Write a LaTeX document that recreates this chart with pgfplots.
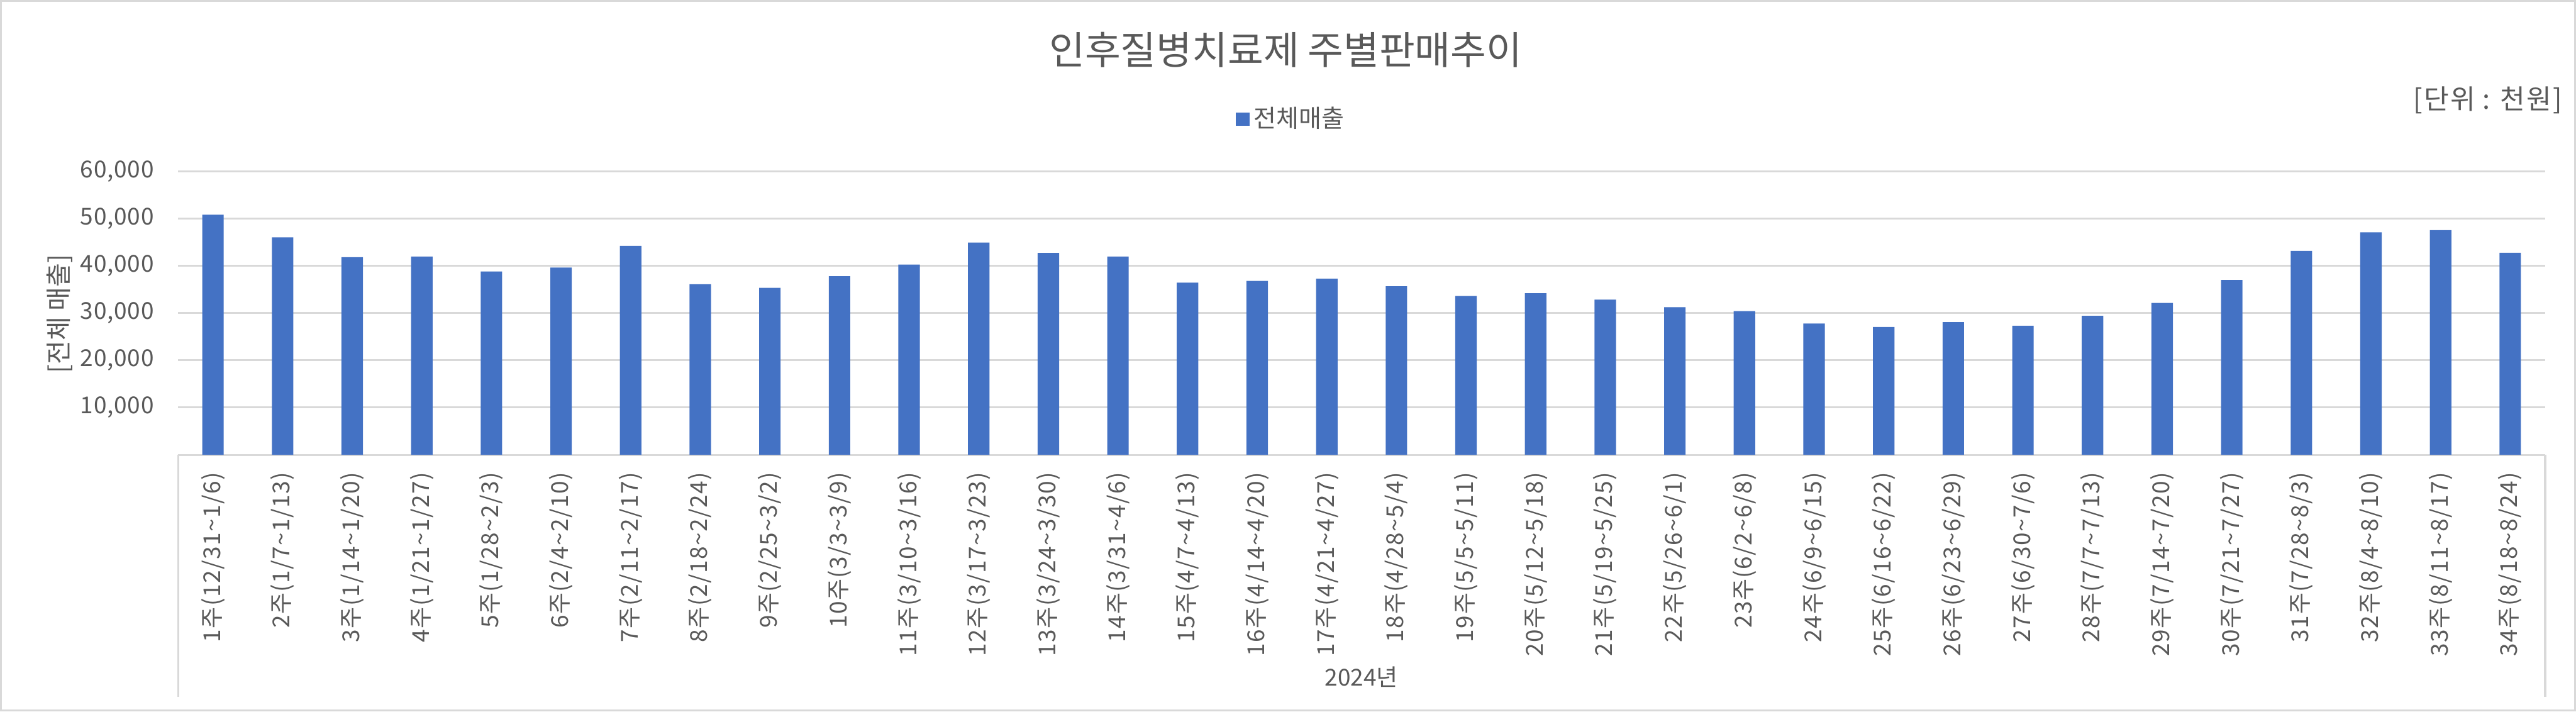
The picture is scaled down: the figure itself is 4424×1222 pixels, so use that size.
\documentclass[border=0pt]{standalone}
\usepackage{fontspec}
\setmainfont{Noto Sans CJK KR}
\newfontfamily\wide[LetterSpace=4]{Noto Sans CJK KR}
\newfontfamily\ywide[LetterSpace=2]{Noto Sans CJK KR}
\newfontfamily\semiwide[LetterSpace=5]{Noto Sans CJK KR}
\usepackage{pgfplots}
\pgfplotsset{compat=1.18}
\definecolor{txt}{HTML}{595959}
\definecolor{grd}{HTML}{D9D9D9}
\definecolor{barc}{HTML}{4472C4}
\newcommand{\tl}{\textasciitilde}
\begin{document}
\begin{tikzpicture}[x=0.225pt,y=0.225pt]
\useasboundingbox (0,0) rectangle (4424,1222);
\draw[grd, line width=0.75pt] (2,2) rectangle (4422,1220);
\node[text=txt, font=\fontsize{15pt}{18pt}\selectfont] at (2208,1136) {인후질병치료제 주별판매추이};
\node[text=txt, font=\fontsize{10.5pt}{12pt}\semiwide, anchor=east, inner sep=0pt] at (4401,1050) {[단위 : 천원]};
\node[text=txt, font=\fontsize{10pt}{12pt}\selectfont, rotate=90] at (102,683) {[전체 매출]};
\node[text=txt, font=\fontsize{9pt}{11pt}\selectfont] at (2338,59) {2024년};
\draw[grd, line width=0.75pt] (306,441) -- (306,25);
\draw[grd, line width=0.75pt] (4371,441) -- (4371,25);
\coordinate (AX) at (306,441);
\begin{axis}[
  at={(AX)}, anchor=south west,
  scale only axis, width=914.6pt, height=109.6pt,
  xmin=0.5, xmax=34.5, ymin=0, ymax=60000,
  ybar, bar width=8.3pt,
  axis x line*=bottom, axis y line*=left,
  x axis line style={grd, line width=0.75pt},
  y axis line style={draw=none},
  ymajorgrids, grid style={grd, line width=0.75pt},
  major tick length=0pt,
  xtick={1,...,34},
  ytick={10000,20000,30000,40000,50000,60000},
  scaled y ticks=false,
  /pgf/number format/1000 sep={,},
  /pgf/number format/assume math mode=true,
  yticklabel style={font=\fontsize{9pt}{11pt}\ywide, text=txt, inner sep=0pt, xshift=-9.2pt},
  xticklabel style={font=\fontsize{9pt}{11pt}\wide, text=txt, inner sep=0pt, yshift=-6.5pt, rotate=90, anchor=east},
  xticklabels={1주(12/31\tl 1/6),2주(1/7\tl 1/13),3주(1/14\tl 1/20),4주(1/21\tl 1/27),5주(1/28\tl 2/3),6주(2/4\tl 2/10),7주(2/11\tl 2/17),8주(2/18\tl 2/24),9주(2/25\tl 3/2),10주(3/3\tl 3/9),11주(3/10\tl 3/16),12주(3/17\tl 3/23),13주(3/24\tl 3/30),14주(3/31\tl 4/6),15주(4/7\tl 4/13),16주(4/14\tl 4/20),17주(4/21\tl 4/27),18주(4/28\tl 5/4),19주(5/5\tl 5/11),20주(5/12\tl 5/18),21주(5/19\tl 5/25),22주(5/26\tl 6/1),23주(6/2\tl 6/8),24주(6/9\tl 6/15),25주(6/16\tl 6/22),26주(6/23\tl 6/29),27주(6/30\tl 7/6),28주(7/7\tl 7/13),29주(7/14\tl 7/20),30주(7/21\tl 7/27),31주(7/28\tl 8/3),32주(8/4\tl 8/10),33주(8/11\tl 8/17),34주(8/18\tl 8/24)},
  legend style={at={(axis description cs:0.4467,1.183)}, anchor=west, draw=none, fill=none, inner sep=0pt, font=\fontsize{9.5pt}{11pt}\selectfont, text=txt, nodes={inner sep=1.6pt}},
  legend cell align=left,
]
\addplot[fill=barc, draw=none, legend image code/.code={\fill[barc] (0pt,-2.6pt) rectangle (5.2pt,2.6pt);}] coordinates {
(1,50800) (2,45980) (3,41790) (4,41950) (5,38770) (6,39620) (7,44200) (8,36080) (9,35330) (10,37780)
(11,40240) (12,44910) (13,42690) (14,41930) (15,36420) (16,36790) (17,37260) (18,35660) (19,33580) (20,34200)
(21,32830) (22,31230) (23,30380) (24,27780) (25,27030) (26,28070) (27,27310) (28,29390) (29,32120) (30,36990)
(31,43150) (32,47060) (33,47530) (34,42730)
};
\addlegendentry{전체매출}
\end{axis}
\end{tikzpicture}
\end{document}
